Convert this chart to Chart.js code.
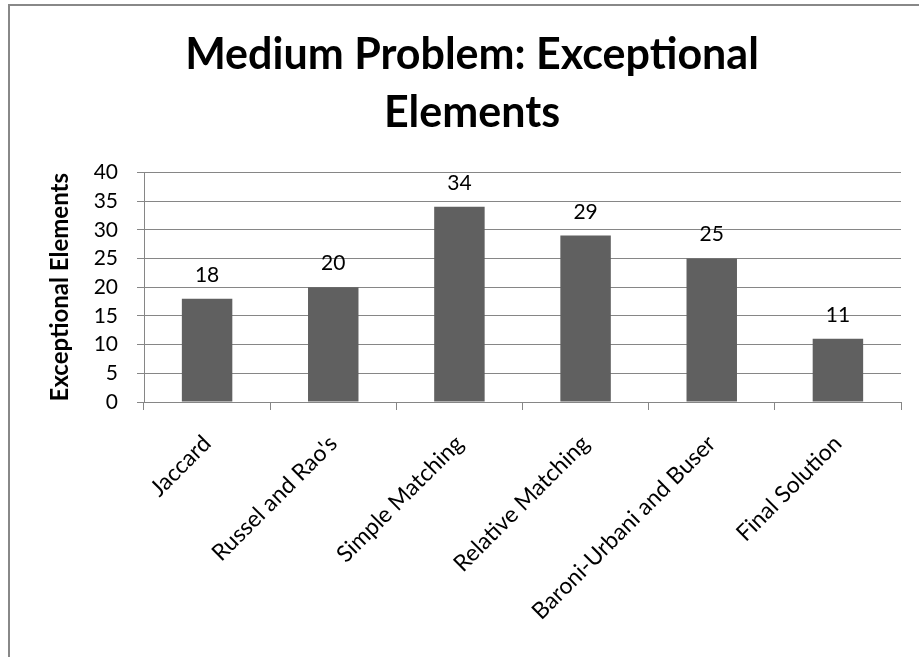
<!DOCTYPE html>
<html>
<head>
<meta charset="utf-8">
<script src="https://cdn.jsdelivr.net/npm/chart.js@4/dist/chart.umd.min.js"></script>
<style>
  html, body { margin: 0; padding: 0; background: #ffffff; }
  #wrap { position: relative; width: 919px; height: 657px; }
</style>
</head>
<body>
<div id="wrap"><canvas id="c" width="919" height="657"></canvas></div>
<script>
const categories = ["Jaccard", "Russel and Rao's", "Simple Matching", "Relative Matching", "Baroni-Urbani and Buser", "Final Solution"];
const values = [18, 20, 34, 29, 25, 11];
const titleLines = ["Medium Problem: Exceptional", "Elements"];
const yAxisTitle = "Exceptional Elements";
const yMin = 0, yMax = 40, yStep = 5;

const FONT = 'Lato, "Open Sans", sans-serif';

const frame = {
  id: 'frame',
  afterDraw(chart) {
    const ctx = chart.ctx;
    ctx.save();
    ctx.strokeStyle = '#888888';
    ctx.lineWidth = 2;
    ctx.beginPath();
    ctx.moveTo(9, 657);
    ctx.lineTo(9, 5);
    ctx.lineTo(919, 5);
    ctx.stroke();
    ctx.restore();
  }
};

const dataLabels = {
  id: 'dataLabels',
  afterDatasetsDraw(chart) {
    const ctx = chart.ctx;
    const meta = chart.getDatasetMeta(0);
    ctx.save();
    ctx.font = '21px ' + FONT;
    ctx.fillStyle = '#000000';
    ctx.textAlign = 'center';
    ctx.textBaseline = 'alphabetic';
    meta.data.forEach((bar, i) => {
      ctx.fillText(String(chart.data.datasets[0].data[i]), bar.x, bar.y - 17);
    });
    ctx.restore();
  }
};

new Chart(document.getElementById('c'), {
  type: 'bar',
  data: {
    labels: categories,
    datasets: [{
      data: values,
      backgroundColor: '#606060',
      borderWidth: 0,
      barPercentage: 0.8,
      categoryPercentage: 0.5
    }]
  },
  options: {
    responsive: false,
    animation: false,
    devicePixelRatio: 1,
    layout: { padding: { left: 43, right: 18, top: 0, bottom: 0 } },
    plugins: {
      legend: { display: false },
      tooltip: { enabled: false },
      title: {
        display: true,
        text: titleLines,
        color: '#000000',
        font: { family: FONT, size: 43, weight: 'bold', lineHeight: 1.33 },
        padding: { top: 27, bottom: 31 }
      }
    },
    scales: {
      x: {
        grid: { display: true, drawOnChartArea: false, offset: true, color: '#868686', tickLength: 8, tickColor: '#868686' },
        border: { display: true, color: '#868686', width: 1 },
        ticks: { color: '#000000', font: { family: FONT, size: 23 }, minRotation: 45, maxRotation: 45, padding: 20, autoSkip: false },
        afterFit(scale) { scale.height = 255; }
      },
      y: {
        min: yMin, max: yMax,
        grid: { color: '#868686', tickLength: 7, tickColor: '#868686' },
        border: { display: true, color: '#868686', width: 1 },
        ticks: { stepSize: yStep, color: '#000000', font: { family: FONT, size: 21 }, padding: 19 },
        title: {
          display: true,
          text: yAxisTitle,
          color: '#000000',
          font: { family: FONT, size: 24, weight: 'bold' },
          padding: { top: 3, bottom: 0 }
        },
        afterFit(scale) { scale.width = 101; }
      }
    }
  },
  plugins: [frame, dataLabels]
});
</script>
</body>
</html>
